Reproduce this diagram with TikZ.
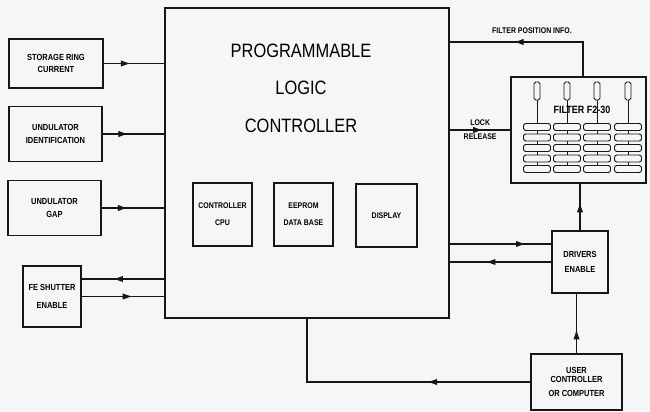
\documentclass[tikz,border=0pt]{standalone}
\usepackage{fontspec}
\setmainfont{Liberation Sans}[FakeStretch=0.85]
\usetikzlibrary{arrows.meta,positioning,calc,decorations.markings}
\definecolor{paper}{RGB}{246,246,246}
\definecolor{ink}{RGB}{22,22,22}
\tikzset{
  blk/.style      = {draw=ink,line width=1.1pt,align=center,inner sep=1pt,
                     font=\fontsize{7.5}{11}\selectfont\bfseries},
  plcbox/.style   = {draw=ink,line width=1.7pt},
  conn/.style     = {draw=ink,line width=0.9pt},
  lbl/.style      = {font=\fontsize{7}{9}\selectfont\bfseries,inner sep=1pt},
  midarrow/.style = {postaction={decorate},
                     decoration={markings,
                       mark=at position #1 with {\arrow{Latex[length=3mm,width=1.9mm]}}}},
  part/.style     = {draw=ink,line width=0.8pt,fill=paper},
}
\begin{document}
\begin{tikzpicture}[x=0.3mm,y=-0.3mm]
  \fill[paper] (0,0) rectangle (650,411);
  \useasboundingbox (0,0) rectangle (650,411);

  % controller
  \node[plcbox,minimum width=85.2mm,minimum height=93mm] (plc) at (307,163) {};
  \node[font=\fontsize{16.5}{32}\selectfont,align=center] (plctitle) at (301,88)
       {PROGRAMMABLE\\LOGIC\\CONTROLLER};
  \node[blk,font=\fontsize{7}{14.5}\selectfont\bfseries,minimum width=17.7mm,minimum height=18.9mm]
       (cpu) at (222.5,214.5) {CONTROLLER\\CPU};
  \node[blk,font=\fontsize{7}{14.5}\selectfont\bfseries,minimum width=17.7mm,minimum height=18.9mm]
       (eeprom) at (303.5,214.5) {EEPROM\\DATA BASE};
  \node[blk,font=\fontsize{7}{14.5}\selectfont\bfseries,minimum width=18.3mm,minimum height=18.9mm]
       (disp) at (386.5,215.5) {DISPLAY};

  % inputs
  \node[blk,minimum width=28.2mm,minimum height=14.7mm] (ring) at (56,63.5) {STORAGE RING\\CURRENT};
  \node[blk,minimum width=27.9mm,minimum height=16.5mm] (ident) at (55.5,134) {UNDULATOR\\IDENTIFICATION};
  \node[blk,minimum width=27.9mm,minimum height=16.5mm] (gap) at (54.5,208) {UNDULATOR\\GAP};
  \node[blk,font=\fontsize{7.5}{15}\selectfont\bfseries,minimum width=17.4mm,minimum height=18.3mm]
       (fe) at (52,296.5) {FE SHUTTER\\ENABLE};

  \draw[conn,midarrow=0.45] (ring.east) -- (ring.east -| plc.west);
  \draw[conn,midarrow=0.42] (ident.east) -- (ident.east -| plc.west);
  \draw[conn,midarrow=0.42] (gap.east) -- (gap.east -| plc.west);
  \coordinate (feA) at ([yshift=5.25mm]fe.east);
  \draw[conn,midarrow=0.62] (feA -| plc.west) -- (feA);
  \draw[conn,midarrow=0.62] (fe.east) -- (fe.east -| plc.west);

  % filter
  \node[blk,minimum width=40.5mm,minimum height=31.8mm] (filt) at (578.5,130) {};
  \foreach \cx in {537,567,597,628}{
    \draw[conn,line width=0.7pt] (\cx,100) -- (\cx,169);
    \draw[part,rounded corners=1.5pt] (\cx-3,82) rectangle (\cx+3,100);
    \foreach \ry in {127,137.5,148,158.5,169}
      \draw[part,rounded corners=2pt] (\cx-13.5,\ry-3.5) rectangle (\cx+13.5,\ry+3.5);
  }
  \node[font=\fontsize{9}{10}\selectfont\bfseries,inner sep=1pt] (filtlabel) at (582,110) {FILTER F2-30};

  \coordinate (infoA) at ([yshift=-10.5mm]plc.north east);
  \draw[conn,midarrow=0.62] ([xshift=1.35mm]filt.north) |- (infoA);
  \node[lbl] (infolabel) at (532,31) {FILTER POSITION INFO.};
  \draw[conn,midarrow=0.55] (filt.west -| plc.east) -- (filt.west)
       node[lbl,midway,above=2pt] (locklabel) {LOCK}
       node[lbl,midway,below=2pt] (rellabel) {RELEASE};

  % drivers and user
  \node[blk,minimum width=16.8mm,minimum height=18.6mm,font=\fontsize{7.5}{13}\selectfont\bfseries]
       (drv) at (580,262) {DRIVERS\\ENABLE};
  \node[blk,line width=1.6pt,minimum width=27.3mm,minimum height=16.8mm]
       (usr) at (576.5,382) {USER\\[-4pt]CONTROLLER\\[1pt]OR COMPUTER};

  \coordinate (drvA) at ([yshift=5.4mm]drv.west);
  \draw[conn,midarrow=0.75] (drvA -| plc.east) -- (drvA);
  \draw[conn,midarrow=0.65] (drv.west) -- (drv.west -| plc.east);
  \draw[conn,midarrow=0.6] (drv.north) -- (drv.north |- filt.south);
  \draw[conn,midarrow=0.4] (usr.north) -- (usr.north |- drv.south);
  \draw[conn,midarrow=0.36] (usr.west) -| (plc.south);
\end{tikzpicture}
\end{document}
